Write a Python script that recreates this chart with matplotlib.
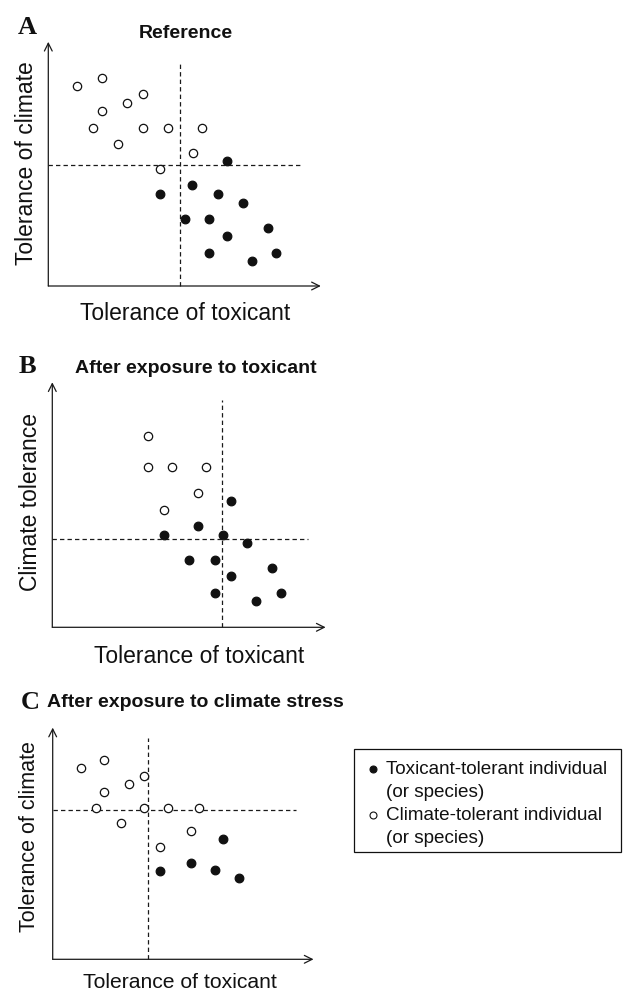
import matplotlib
matplotlib.use("Agg")
import matplotlib.pyplot as plt
from matplotlib.patches import Rectangle

# ---------------- data (units on a common grid) ----------------
# Panel A: Reference
a_open_x = [3.4, 6.4, 6.4, 9.4, 11.4, 5.4, 11.4, 14.4, 18.4, 8.4, 17.4, 13.4]
a_open_y = [24.0, 25.0, 21.0, 22.0, 23.0, 19.0, 19.0, 19.0, 19.0, 17.0, 16.0, 14.0]
a_fill_x = [21.4, 13.4, 17.3, 20.4, 23.4, 16.4, 19.3, 26.4, 21.4, 19.3, 27.3, 24.4]
a_fill_y = [15.0, 11.1, 12.1, 11.1, 10.0, 8.0, 8.0, 7.0, 6.0, 4.0, 4.0, 3.0]
a_vline, a_hline = 15.84, 14.52

# Panel B: After exposure to toxicant
b_open_x = [11.5, 11.5, 14.4, 18.5, 17.5, 13.4]
b_open_y = [23.0, 19.2, 19.2, 19.2, 16.1, 14.1]
b_fill_x = [21.5, 17.5, 13.4, 20.5, 23.4, 16.4, 19.5, 26.4, 21.5, 19.5, 27.5, 24.4]
b_fill_y = [15.1, 12.1, 11.1, 11.1, 10.1, 8.1, 8.1, 7.1, 6.1, 4.1, 4.1, 3.1]
b_vline, b_hline = 20.32, 10.6

# Panel C: After exposure to climate stress
c_open_x = [3.4, 6.2, 6.2, 9.1, 10.9, 5.2, 10.9, 13.8, 17.6, 8.2, 16.6, 12.9]
c_open_y = [23.0, 23.9, 20.1, 21.0, 22.0, 18.2, 18.2, 18.2, 18.2, 16.4, 15.4, 13.5]
c_fill_x = [20.4, 12.9, 16.6, 19.5, 22.3]
c_fill_y = [14.4, 10.6, 11.6, 10.7, 9.7]
c_vline, c_hline = 11.48, 17.92

titles = ["Reference", "After exposure to toxicant", "After exposure to climate stress"]
letters = ["A", "B", "C"]
ylabels = ["Tolerance of climate", "Climate tolerance", "Tolerance of climate"]
xlabel = "Tolerance of toxicant"
legend_lines = ["Toxicant-tolerant individual", "(or species)",
                "Climate-tolerant individual", "(or species)"]

# ---------------- layout ----------------
W, H = 623, 992
U = 25 / 3.0  # pixels per data unit
SANS = ["Liberation Sans", "DejaVu Sans"]
SERIF = ["Liberation Serif", "DejaVu Serif"]
INK = "#111111"

fig = plt.figure(figsize=(W / 100, H / 100), dpi=100)


def fx(px):
    return px / W


def fy(py):
    return 1 - py / H


def panel(ox, oy, xmax, ymax, vline, vtop, hline, hright,
          ox_list, oy_list, fx_list, fy_list):
    ax = fig.add_axes([fx(ox), fy(oy), xmax * U / W, ymax * U / H])
    ax.set_xlim(0, xmax)
    ax.set_ylim(0, ymax)
    ax.axis("off")
    ap = dict(arrowstyle="->", lw=0.9, color="#1a1a1a", mutation_scale=14,
              shrinkA=0, shrinkB=0)
    ax.annotate("", xy=(0, ymax), xytext=(0, 0), arrowprops=ap, annotation_clip=False)
    ax.annotate("", xy=(xmax, 0), xytext=(0, 0), arrowprops=ap, annotation_clip=False)
    ax.plot([vline, vline], [0, vtop], ls=(0, (3.5, 2.5)), lw=0.9, color="#1a1a1a", clip_on=False)
    ax.plot([0, hright], [hline, hline], ls=(0, (3.5, 2.5)), lw=0.9, color="#1a1a1a", clip_on=False)
    ax.plot(ox_list, oy_list, "o", ms=6.0, mfc="white", mec=INK, mew=0.9,
            ls="none", clip_on=False, zorder=3)
    ax.plot(fx_list, fy_list, "o", ms=6.2, mfc=INK, mec=INK, mew=0.9,
            ls="none", clip_on=False, zorder=3)
    return ax


panel(48.3, 286, 32.7, 29.3, a_vline, 27.0, a_hline, 30.5,
      a_open_x, a_open_y, a_fill_x, a_fill_y)
panel(52.3, 627.3, 32.8, 29.4, b_vline, 27.3, b_hline, 30.7,
      b_open_x, b_open_y, b_fill_x, b_fill_y)
panel(52.7, 959.3, 31.3, 27.8, c_vline, 26.5, c_hline, 29.2,
      c_open_x, c_open_y, c_fill_x, c_fill_y)

# panel letters
for (x, y), L in zip([(27.5, 34), (27.5, 373), (30, 709)], letters):
    fig.text(fx(x), fy(y), L, family=SERIF, weight="bold", fontsize=19,
             ha="center", va="baseline", color=INK)

# titles
fig.text(fx(186), fy(37.5), titles[0], family=SANS, weight="bold", fontsize=14,
         ha="center", va="baseline", color=INK)
fig.text(fx(75), fy(373), titles[1], family=SANS, weight="bold", fontsize=14,
         ha="left", va="baseline", color=INK)
fig.text(fx(47), fy(707), titles[2], family=SANS, weight="bold", fontsize=14,
         ha="left", va="baseline", color=INK)

# y labels (rotated; baseline on the right side)
for (x, y), lab, fs in zip([(33, 163), (37, 502), (35, 837)], ylabels, [16.5, 16.5, 15.5]):
    fig.text(fx(x), fy(y), lab, family=SANS, fontsize=fs, rotation=90,
             rotation_mode="anchor", ha="center", va="baseline", color=INK)

# x labels
for (x, y), fs in zip([(185, 320), (199, 663), (180, 988)], [16.5, 16.5, 15.2]):
    fig.text(fx(x), fy(y), xlabel, family=SANS, fontsize=fs,
             ha="center", va="baseline", color=INK)

# legend box
BX0, BX1, BY0, BY1 = 354, 621, 749, 852
fig.patches.append(Rectangle((fx(BX0), fy(BY1)), (BX1 - BX0) / W, (BY1 - BY0) / H,
                             transform=fig.transFigure, fill=False,
                             edgecolor=INK, lw=0.9))
legax = fig.add_axes([fx(BX0), fy(BY1), (BX1 - BX0) / W, (BY1 - BY0) / H])
legax.set_xlim(BX0, BX1)
legax.set_ylim(BY1, BY0)
legax.axis("off")
legax.plot([373], [769], "o", ms=5.0, mfc=INK, mec=INK, mew=0.8, clip_on=False)
legax.plot([373], [815], "o", ms=5.0, mfc="white", mec=INK, mew=0.8, clip_on=False)
for yb, txt in zip([774, 797, 820, 843], legend_lines):
    legax.text(386, yb, txt, family=SANS, fontsize=13.6,
               ha="left", va="baseline", color=INK)

fig.savefig("out.png", dpi=100)
